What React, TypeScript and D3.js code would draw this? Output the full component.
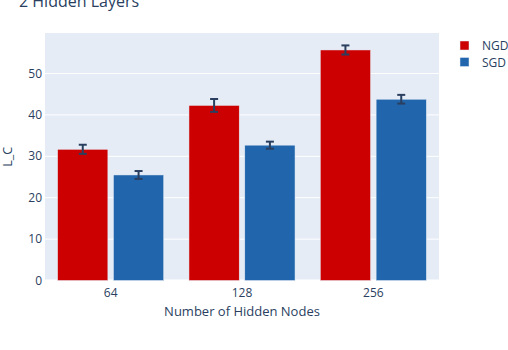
import React, { useEffect, useRef } from "react";
import * as d3 from "d3";

const nodes = ["64", "128", "256"];
const seriesNames = ["NGD", "SGD"];
const ngdValues = [31.7, 42.3, 55.7];
const ngdErrors = [1.1, 1.55, 1.1];
const sgdValues = [25.5, 32.7, 43.8];
const sgdErrors = [0.95, 0.85, 1.05];
const yTicks = [0, 10, 20, 30, 40, 50];

const colors = ["#cc0000", "#2166ac"];
const font = "'Open Sans', verdana, arial, sans-serif";
const textColor = "#2a3f5f";

export default function App() {
  const ref = useRef<SVGSVGElement>(null);

  useEffect(() => {
    const width = 508, height = 350;
    const margin = { top: 33, right: 69, bottom: 69.5, left: 45 };
    const innerWidth = width - margin.left - margin.right;
    const innerHeight = height - margin.top - margin.bottom;

    const svg = d3.select(ref.current);
    svg.selectAll("*").remove();

    const values = [ngdValues, sgdValues];
    const errors = [ngdErrors, sgdErrors];

    const x = d3.scaleBand().domain(nodes).range([0, innerWidth]).paddingInner(0.15).paddingOuter(0.075);
    const xs = d3.scaleBand().domain(seriesNames).range([0, x.bandwidth()]).padding(0);
    const y = d3.scaleLinear().domain([0, 59.8]).range([innerHeight, 0]);

    const g = svg.append("g").attr("transform", `translate(${margin.left},${margin.top})`);

    g.append("rect").attr("width", innerWidth).attr("height", innerHeight).attr("fill", "#e5ecf6");

    // grid
    g.selectAll("line.grid")
      .data(yTicks.filter(d => d > 0))
      .join("line")
      .attr("x1", 0).attr("x2", innerWidth)
      .attr("y1", d => y(d)).attr("y2", d => y(d))
      .attr("stroke", "#fff").attr("stroke-width", 1);
    g.append("line").attr("x1", 0).attr("x2", innerWidth)
      .attr("y1", y(0)).attr("y2", y(0)).attr("stroke", "#fff").attr("stroke-width", 2);

    seriesNames.forEach((s, si) => {
      const slot = xs.bandwidth();
      const bw = slot * 0.9;
      const sg = g.append("g");
      sg.selectAll("rect")
        .data(values[si])
        .join("rect")
        .attr("x", (d, i) => x(nodes[i])! + xs(s)! + (slot - bw) / 2)
        .attr("y", d => y(d))
        .attr("width", bw)
        .attr("height", d => y(0) - y(d))
        .attr("fill", colors[si])
        .attr("stroke", "#e5ecf6")
        .attr("stroke-width", 0.5);
      values[si].forEach((v, i) => {
        const cx = x(nodes[i])! + xs(s)! + slot / 2;
        const e = errors[si][i];
        const eg = sg.append("g").attr("stroke", textColor).attr("stroke-width", 2);
        eg.append("line").attr("x1", cx).attr("x2", cx).attr("y1", y(v + e)).attr("y2", y(v - e));
        eg.append("line").attr("x1", cx - 4).attr("x2", cx + 4).attr("y1", y(v + e)).attr("y2", y(v + e));
        eg.append("line").attr("x1", cx - 4).attr("x2", cx + 4).attr("y1", y(v - e)).attr("y2", y(v - e));
      });
    });

    // y axis labels
    g.selectAll("text.ytick")
      .data(yTicks)
      .join("text")
      .attr("x", -3).attr("y", d => y(d) + 4)
      .attr("text-anchor", "end")
      .attr("font-family", font).attr("font-size", 12).attr("fill", textColor)
      .text(d => d);

    // x axis labels
    g.selectAll("text.xtick")
      .data(nodes)
      .join("text")
      .attr("x", d => x(d)! + x.bandwidth() / 2).attr("y", innerHeight + 16)
      .attr("text-anchor", "middle")
      .attr("font-family", font).attr("font-size", 12).attr("fill", textColor)
      .text(d => d);

    svg.append("text")
      .attr("x", margin.left + innerWidth / 2).attr("y", 316)
      .attr("text-anchor", "middle")
      .attr("font-family", font).attr("font-size", 13).attr("fill", textColor)
      .text("Number of Hidden Nodes");

    svg.append("text")
      .attr("transform", `translate(12,${margin.top + innerHeight / 2}) rotate(-90)`)
      .attr("text-anchor", "middle")
      .attr("font-family", font).attr("font-size", 12.5).attr("fill", textColor)
      .text("L_C");

    svg.append("text")
      .attr("x", 19).attr("y", 7)
      .attr("font-family", font).attr("font-size", 16).attr("fill", textColor)
      .text("2 Hidden Layers");

    // legend
    const lg = svg.append("g").attr("transform", "translate(460,41)");
    seriesNames.forEach((s, i) => {
      lg.append("rect").attr("x", 0).attr("y", i * 16.5).attr("width", 9).attr("height", 9)
        .attr("fill", colors[i]).attr("stroke", "#e5ecf6").attr("stroke-width", 0.5);
      lg.append("text").attr("x", 22).attr("y", i * 16.5 + 9)
        .attr("font-family", font).attr("font-size", 12).attr("fill", textColor)
        .text(s);
    });
  }, []);

  return (
    <div style={{ position: "absolute", left: 0, top: 0 }}>
      <svg ref={ref} width={508} height={350} style={{ display: "block", background: "#fff" }} />
    </div>
  );
}
